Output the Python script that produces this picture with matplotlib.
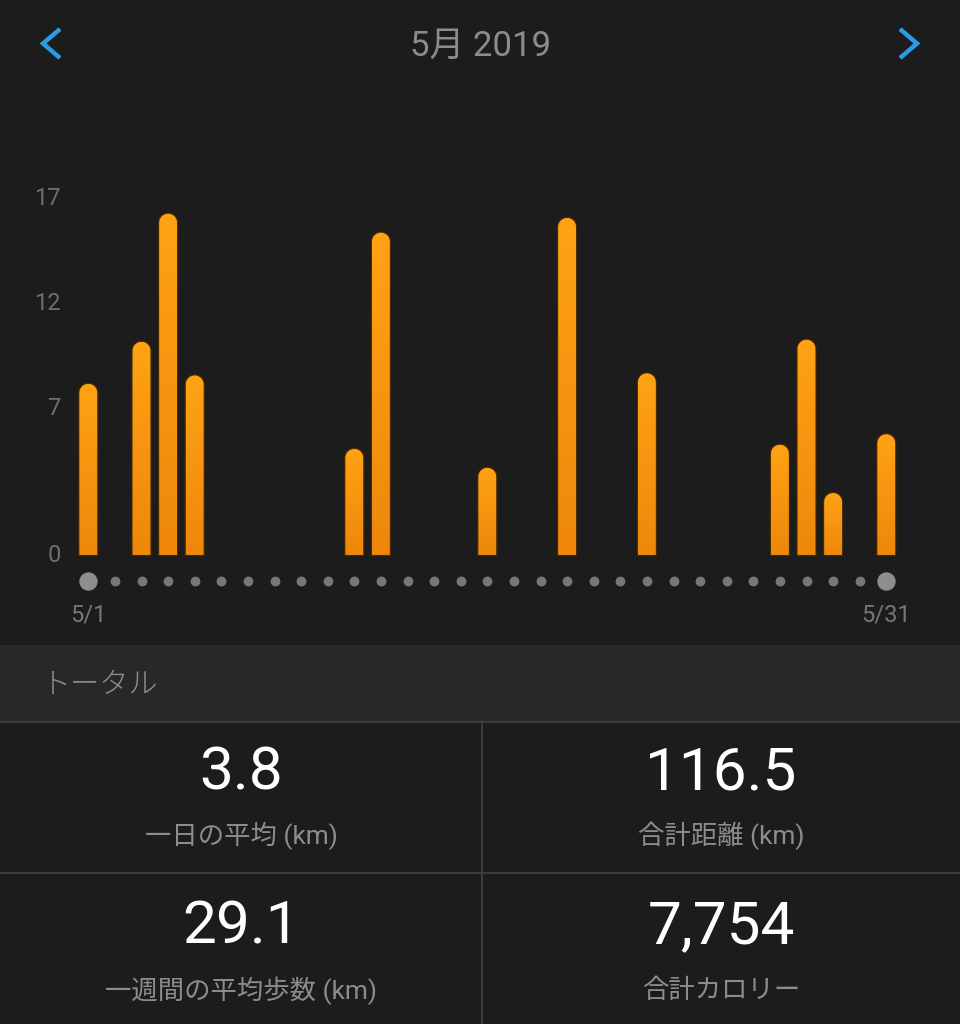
import numpy as np
import matplotlib.pyplot as plt
from matplotlib.patches import Rectangle, PathPatch
from matplotlib.path import Path
from matplotlib.colors import LinearSegmentedColormap

# daily distance (km), May 2019
days = np.arange(1, 32)
run_days = [1, 3, 4, 5, 11, 12, 16, 19, 22, 27, 28, 29, 31]
run_km = [8.2, 10.2, 16.3, 8.6, 5.1, 15.4, 4.2, 16.1, 8.7, 5.3, 10.3, 3.0, 5.8]
y_ticks = [0, 7, 12, 17]
date_labels = {1: "5/1", 31: "5/31"}

title = "5月 2019"
section = "トータル"
stat_values = ["3.8", "116.5", "29.1", "7,754"]
stat_labels = ["一日の平均 (km)", "合計距離 (km)", "一週間の平均歩数 (km)", "合計カロリー"]

BG = "#1c1c1c"
BAND = "#282828"
LINE = "#3b3b3b"
GRAY = "#8c8c8c"
BLUE = "#2b9be4"
FONTS = ["Roboto", "Noto Sans CJK JP", "DejaVu Sans"]
plt.rcParams["font.family"] = FONTS

W, H = 960, 1024
fig = plt.figure(figsize=(W / 100, H / 100), dpi=100, facecolor=BG)

# background / layout axes in pixel coords
bg = fig.add_axes([0, 0, 1, 1])
bg.set_xlim(0, W)
bg.set_ylim(H, 0)
bg.axis("off")
bg.set_facecolor(BG)

bg.text(W / 2, 46, title, color=GRAY, fontsize=25, ha="center", va="center")
# nav chevrons
bg.plot([60, 43, 60], [29, 43.5, 58], color=BLUE, lw=3.2, solid_capstyle="butt", solid_joinstyle="miter")
bg.plot([W - 60, W - 43, W - 60], [29, 43.5, 58], color=BLUE, lw=3.2, solid_capstyle="butt", solid_joinstyle="miter")

bg.add_patch(Rectangle((0, 645), W, 76, color=BAND, lw=0))
bg.text(42, 685, section, color=GRAY, fontsize=21, ha="left", va="center", fontweight="light")
bg.plot([0, W], [721.5, 721.5], color=LINE, lw=1.5)
bg.plot([0, W], [872.5, 872.5], color=LINE, lw=1.5)
bg.plot([482, 482], [721, H], color=LINE, lw=1.5)

cell_x = [241, 721, 241, 721]
val_y = [773, 773, 927, 927]
lab_y = [836, 836, 991, 991]
for v, lab, cx, vy, ly in zip(stat_values, stat_labels, cell_x, val_y, lab_y):
    bg.text(cx, vy, v, color="white", fontsize=43.5, ha="center", va="center")
    bg.text(cx, ly, lab, color=GRAY, fontsize=19, ha="center", va="center")

# chart axes
px_day = 26.6
px_unit = 21.0
x_left_px, x0_px = 62, 88.3
top_px, bot_px, zero_px = 150, 640, 555.5
ax = fig.add_axes([x_left_px / W, (H - bot_px) / H, 1 - x_left_px / W, (bot_px - top_px) / H])
ax.set_facecolor("none")
for s in ax.spines.values():
    s.set_visible(False)
ax.set_xticks([])
ax.set_yticks(y_ticks)
ax.tick_params(axis="y", length=0, pad=1, labelsize=17, labelcolor="#6f6f6f")
for lbl in ax.get_yticklabels():
    lbl.set_verticalalignment("center")

cmap = LinearSegmentedColormap.from_list("bar", ["#ee870b", "#ffa314"])
grad = np.linspace(0, 1, 256).reshape(-1, 1)
bw = 19 / px_day
ry = 9.5 / px_unit
bars = ax.bar(run_days, run_km, width=bw, color="none", lw=0)
for b in bars:
    x0, w, h = b.get_x(), b.get_width(), b.get_height()
    cx, rx = x0 + w / 2, w / 2
    t = np.linspace(np.pi, 0, 40)
    verts = [(x0, 0), (x0, h - ry)] + list(zip(cx + rx * np.cos(t), h - ry + ry * np.sin(t))) + [(x0 + w, 0), (x0, 0)]
    codes = [Path.MOVETO] + [Path.LINETO] * (len(verts) - 2) + [Path.CLOSEPOLY]
    patch = PathPatch(Path(verts, codes), facecolor="none", edgecolor="#4a2a00", lw=0.8, zorder=3)
    ax.add_patch(patch)
    im = ax.imshow(grad, cmap=cmap, origin="lower", aspect="auto", extent=[x0, x0 + w, 0, h], zorder=2)
    im.set_clip_path(patch)

# day dots
dot_y = -(581 - zero_px) / px_unit
small = [d for d in days if d not in date_labels]
ax.scatter(small, [dot_y] * len(small), s=50, color="#777777", lw=0, clip_on=False)
ax.scatter(list(date_labels), [dot_y] * len(date_labels), s=175, color="#8e8e8e", lw=0, clip_on=False)
for d, lab in date_labels.items():
    ax.text(d, -(615 - zero_px) / px_unit, lab, color="#777777", fontsize=17, ha="center", va="center")

ax.set_xlim(1 - (x0_px - x_left_px) / px_day, 1 + (W - x0_px) / px_day)
ax.set_ylim(-(bot_px - zero_px) / px_unit, (zero_px - top_px) / px_unit)

fig.savefig("out.png", dpi=100, facecolor=BG)
